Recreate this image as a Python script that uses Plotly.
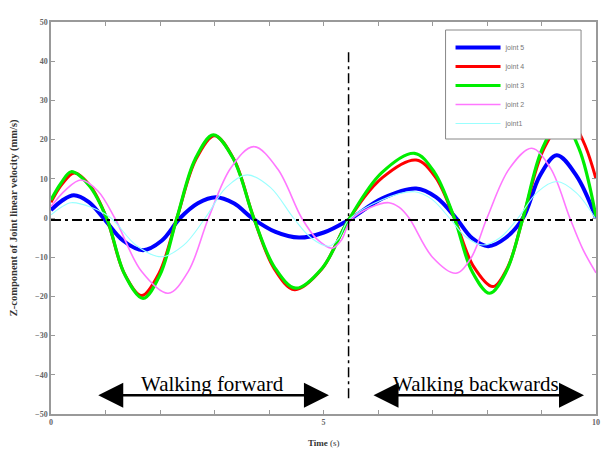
import plotly.graph_objects as go

# ---- data (time in s, velocity in mm/s) ----
j5_x = [0, 0.2, 0.42, 0.69, 0.96, 1.325, 1.69, 2.03, 2.37, 2.695, 3.02, 3.355, 3.69, 4.12, 4.55, 5.005, 5.46, 6.08, 6.7, 7.065, 7.43, 7.725, 8.02, 8.34, 8.66, 8.97, 9.28, 9.64, 10]
j5_y = [2.0, 4.4, 5.8, 4.1, 0, -5.8, -8.2, -5.8, 0, 3.75, 5.3, 3.75, 0, -3.55, -5.0, -3.7, -0.5, 5.0, 7.5, 5.3, 0, -5.1, -7.2, -5.1, 0, 10.8, 16.0, 10.8, 0.0]

j4_x = [0, 0.2, 0.43, 0.725, 1.02, 1.34, 1.66, 1.985, 2.31, 2.655, 3.0, 3.36, 3.72, 4.095, 4.47, 4.965, 5.46, 6.08, 6.7, 7.05, 7.4, 7.755, 8.11, 8.385, 8.66, 9.045, 9.43, 9.62, 9.82, 10]
j4_y = [4.0, 8.6, 11.5, 8.1, 0, -14.0, -19.8, -14.0, 0, 14.85, 21.0, 14.85, 0, -12.9, -18.3, -13.1, -0.5, 10.3, 14.8, 10.5, 0, -12.4, -17.5, -12.4, 0, 17.7, 25.0, 23.3, 17.8, 10.0]

j3_x = [0, 0.18, 0.37, 0.695, 1.02, 1.355, 1.69, 2.0, 2.31, 2.645, 2.98, 3.35, 3.72, 4.105, 4.49, 4.975, 5.46, 6.065, 6.67, 7.035, 7.4, 7.725, 8.05, 8.355, 8.66, 9.015, 9.37, 9.685, 10]
j3_y = [4.6, 8.8, 11.8, 8.35, 0, -14.5, -20.5, -14.5, 0, 15.0, 21.2, 15.0, 0, -12.65, -17.9, -12.8, -0.5, 11.5, 16.5, 11.65, 0, -13.6, -19.2, -13.6, 0, 17.7, 25.0, 17.8, 0.3]

j2_x = [0, 0.27, 0.55, 0.86, 1.17, 1.66, 2.15, 2.52, 2.89, 3.305, 3.72, 4.16, 4.6, 4.88, 5.16, 5.33, 5.5, 5.85, 6.2, 6.385, 6.57, 7.0, 7.43, 7.715, 8.0, 8.41, 8.82, 9.17, 9.52, 9.76, 10]
j2_y = [2.9, 7.2, 9.7, 6.9, 0, -13.6, -19.2, -13.6, 0, 12.9, 18.2, 12.5, 0, -5.4, -7.7, -5.6, -0.5, 2.6, 3.9, 2.75, 0, -10.0, -14.1, -10.0, 0, 12.6, 17.8, 12.6, 0, -8.0, -14.0]

j1_x = [0, 0.18, 0.37, 0.735, 1.1, 1.565, 2.03, 2.43, 2.83, 3.215, 3.6, 4.025, 4.45, 4.775, 5.1, 5.28, 5.46, 6.065, 6.67, 6.99, 7.31, 7.62, 7.93, 8.25, 8.57, 8.925, 9.28, 9.64, 10]
j1_y = [0.8, 2.7, 3.9, 2.75, 0, -7.0, -9.9, -7.0, 0, 7.8, 11.0, 7.8, 0, -5.1, -7.2, -5.2, -0.5, 4.6, 6.7, 4.75, 0, -4.9, -6.9, -4.9, 0, 6.6, 9.3, 6.4, -0.4]

series_names = ["joint 5", "joint 4", "joint 3", "joint 2", "joint1"]
series_x = [j5_x, j4_x, j3_x, j2_x, j1_x]
series_y = [j5_y, j4_y, j3_y, j2_y, j1_y]
series_colors = ["#0000ff", "#ff0000", "#00ee00", "#ff77ff", "#99ffff"]
series_widths = [4, 3, 3.2, 1.6, 1.1]

x_ticks = list(range(0, 11))
x_ticktext = ["0", "", "", "", "", "5", "", "", "", "", "10"]
y_ticks = list(range(-50, 51, 10))

# reference lines and annotations (data coordinates)
zero_line_x = [0, 10]
zero_line_y = [-0.5, -0.5]
split_line_x = [5.46, 5.46]
split_line_y = [42.3, -47.0]
fwd_arrow = (0.84, 5.10, -45.2)
bwd_arrow = (5.89, 9.78, -45.2)
labels_text = ["Walking forward", "Walking backwards"]
labels_x = [2.96, 7.8]
labels_y = [-42.3, -42.3]

# plot area in pixels (for paper-coordinate placement of legend/titles)
PL, PR, PT, PB = 51, 598, 22, 414
PW, PH = PR - PL, PB - PT

fig = go.Figure()
for nm, xs, ys, c, w in zip(series_names, series_x, series_y, series_colors, series_widths):
    fig.add_trace(go.Scatter(x=xs, y=ys, mode="lines", name=nm,
                             line=dict(color=c, width=w, shape="spline", smoothing=1.0)))

fig.add_trace(go.Scatter(x=zero_line_x, y=zero_line_y, mode="lines", showlegend=False,
                         line=dict(color="black", width=2, dash="10px,4px,3px,4px")))
fig.add_trace(go.Scatter(x=split_line_x, y=split_line_y, mode="lines", showlegend=False,
                         line=dict(color="black", width=1.5, dash="10px,4px,3px,4px")))

annotations = []
for (x0, x1, yy) in [fwd_arrow, bwd_arrow]:
    annotations.append(dict(x=x1, y=yy, ax=x0, ay=yy, xref="x", yref="y", axref="x", ayref="y",
                            text="", showarrow=True, arrowhead=2, startarrowhead=2,
                            arrowside="end+start", arrowwidth=2.5, arrowsize=2.0,
                            startarrowsize=2.0, arrowcolor="black"))
for t, xx, yy in zip(labels_text, labels_x, labels_y):
    annotations.append(dict(x=xx, y=yy, xref="x", yref="y", text=t, showarrow=False,
                            font=dict(family="Liberation Serif", size=21, color="black"),
                            yanchor="middle"))

annotations.append(dict(x=(14 - PL) / PW, y=0.5, xref="paper", yref="paper", textangle=-90,
                        xanchor="center", yanchor="middle",
                        text="<b>Z-component of Joint linear velocity (mm/s)</b>", showarrow=False,
                        font=dict(family="Liberation Serif", size=10.5, color="#333")))
annotations.append(dict(x=0.5, y=(PB - 443) / PH, xref="paper", yref="paper",
                        xanchor="center", yanchor="middle",
                        text="<b>Time</b> (s)", showarrow=False,
                        font=dict(family="Liberation Serif", size=9, color="#333")))

axis_common = dict(showline=True, linecolor="#999", linewidth=1.5, mirror="allticks",
                   ticks="inside", ticklen=4, tickcolor="#999", tickwidth=1,
                   showgrid=False, zeroline=False,
                   tickfont=dict(family="Liberation Serif", size=8, color="#666", weight="bold"))

# legend box (opaque, covers the curves beneath it as in the reference)
legend_box = dict(type="rect", xref="paper", yref="paper", layer="above",
                  x0=(447 - PL) / PW, x1=(583 - PL) / PW,
                  y0=(PB - 139) / PH, y1=(PB - 30) / PH,
                  fillcolor="white", line=dict(color="#888", width=1))

fig.update_layout(
    width=612, height=461,
    margin=dict(l=PL, r=612 - PR, t=PT, b=461 - PB),
    paper_bgcolor="white", plot_bgcolor="white",
    xaxis=dict(range=[0, 10], tickvals=x_ticks, ticktext=x_ticktext, **axis_common),
    yaxis=dict(range=[-50, 50], tickvals=y_ticks, **axis_common),
    legend=dict(x=(452 - PL) / PW, y=(PB - 33) / PH, xanchor="left", yanchor="top",
                bgcolor="rgba(0,0,0,0)", borderwidth=0,
                font=dict(family="Liberation Sans", size=7, color="#777"),
                itemwidth=45),
    shapes=[legend_box],
    annotations=annotations,
    showlegend=True,
)

fig.write_html("out.html")
